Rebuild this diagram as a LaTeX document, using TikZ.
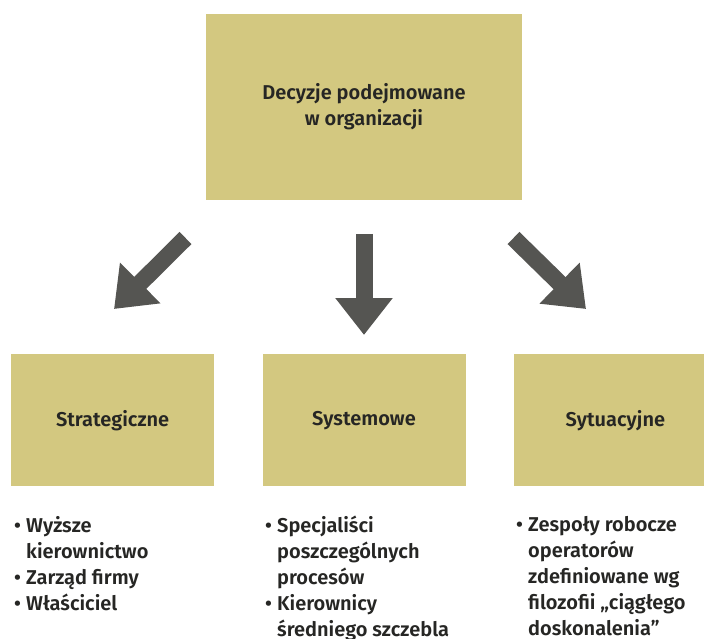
\documentclass[tikz,border=0pt]{standalone}
\usepackage{fontspec}
\setmainfont{Fira Sans}[BoldFont={Fira Sans SemiBold}]
\usetikzlibrary{arrows.meta, positioning}
\definecolor{boxkhaki}{RGB}{211,200,128}
\definecolor{arrowgrey}{RGB}{85,85,82}
\definecolor{txtdark}{RGB}{38,38,36}
\newcommand{\pkt}{\makebox[12pt][l]{•}}
\newcommand{\wci}{\hspace*{12pt}}

\begin{document}
\begin{tikzpicture}[x=1pt, y=-1pt,
  every node/.style={font=\fontsize{20}{26}\selectfont\bfseries, text=txtdark},
  decbox/.style={fill=boxkhaki, inner sep=0pt, align=center},
  levelbox/.style={decbox, minimum width=203pt, minimum height=132pt},
  bigarrow/.style={draw=arrowgrey, line width=17pt, -{Triangle[width=55pt, length=37pt]}},
  lista/.style={anchor=north west, align=left, inner sep=0pt}
]
\useasboundingbox (0,0) rectangle (704,639);

% decyzja glowna
\node[decbox, minimum width=316pt, minimum height=186pt] (decyzje) at (364,107)
  {Decyzje podejmowane\\w organizacji};

% trzy rodzaje decyzji
\node[levelbox, below=154pt of decyzje] (system) {Systemowe};
\node[levelbox, left=48pt of system] (strateg) {Strategiczne};
\node[levelbox, right=48pt of system] (sytuac) {Sytuacyjne};

% strzalki
\coordinate (s1) at (185.5,238);
\coordinate (k1) at (114,309);
\coordinate (s2) at (364,234);
\coordinate (k2) at (364,335);
\coordinate (s3) at (513.5,238);
\coordinate (k3) at (586,309);
\draw[bigarrow] (s1) -- (k1);
\draw[bigarrow] (s2) -- (k2);
\draw[bigarrow] (s3) -- (k3);

% kto decyduje
\node[lista] (kto1) at (14,516)
  {\pkt Wyższe\\\wci kierownictwo\\\pkt Zarząd firmy\\\pkt Właściciel};
\node[lista] (kto2) at (265,516)
  {\pkt Specjaliści\\\wci poszczególnych\\\wci procesów\\\pkt Kierownicy\\\wci średniego szczebla};
\node[lista] (kto3) at (516,516)
  {\pkt Zespoły robocze\\\wci operatorów\\\wci zdefiniowane wg\\\wci filozofii „ciągłego\\\wci doskonalenia”};
\end{tikzpicture}
\end{document}
